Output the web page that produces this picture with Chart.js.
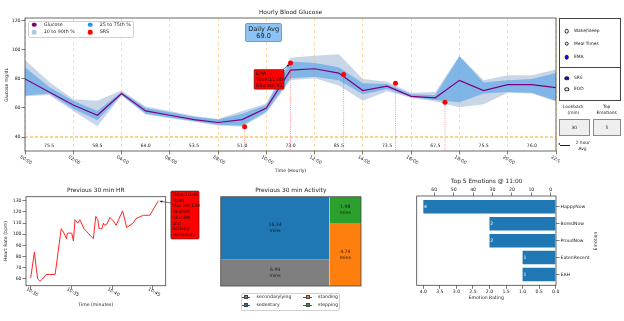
<!DOCTYPE html>
<html>
<head>
<meta charset="utf-8">
<script src="https://cdn.jsdelivr.net/npm/chart.js@4.4.1/dist/chart.umd.min.js"></script>
<style>
  html, body { margin: 0; padding: 0; background: #fff; }
  body { width: 624px; height: 321px; position: relative; overflow: hidden;
         font-family: "DejaVu Sans", sans-serif; color: #222; }
  canvas { position: absolute; }
  .t { position: absolute; white-space: nowrap; line-height: 1; }
  .box { position: absolute; box-sizing: border-box; }
  .dot { position: absolute; border-radius: 50%; box-sizing: border-box; transform: translate(-50%, -50%); }
</style>
</head>
<body>
<canvas id="glucoseChart" width="560" height="180" style="left:0;top:0"></canvas>
<canvas id="hrChart" width="205" height="141" style="left:0;top:180px"></canvas>
<canvas id="activityChart" width="180" height="141" style="left:200px;top:180px"></canvas>
<canvas id="emotionChart" width="234" height="141" style="left:390px;top:180px"></canvas>

<script>
// ---------- hourly glucose ----------
const hours = [0, 1, 2, 3, 4, 5, 6, 7, 8, 9, 10, 11, 12, 13, 14, 15, 16, 17, 18, 19, 20, 21, 22];
const hourTickValues = [0, 2, 4, 6, 8, 10, 12, 14, 16, 18, 20, 22];
const hourTickLabels = ['00:00', '02:00', '04:00', '06:00', '08:00', '10:00', '12:00', '14:00', '16:00', '18:00', '20:00', '22:00'];
const glucoseTicks = [40, 60, 80, 100, 120];
const glucose = [80, 71, 62, 55, 70, 58, 55, 52, 50, 52, 60, 86, 87, 84, 72, 75, 68, 67, 79, 72, 76, 76, 74];
const pct10 = [68, 69, 58, 47.5, 68.5, 55.5, 53, 50.5, 48, 47, 56.5, 79, 80.5, 75.5, 65, 71.5, 67, 64.5, 60.5, 62.5, 70.5, 70, 64.5];
const pct25 = [68.5, 70, 59.5, 51.5, 69, 56, 53.5, 51, 48.5, 48, 57.5, 80.5, 81.5, 79, 69.5, 73, 67.5, 65.5, 64, 70, 71, 70.5, 65];
const pct75 = [88, 74.5, 65, 58, 71, 60, 57, 54, 52, 56, 62, 92, 91, 88, 77, 76.5, 69.5, 69, 95.5, 77.5, 79, 80, 84];
const pct90 = [93, 78, 66, 65, 72, 61, 58, 54.5, 52.5, 58, 63, 94.5, 96, 97, 80, 78, 70.5, 71, 96, 79, 82.5, 82.5, 86.5];
const srsHours = [9.1, 11.0, 13.2, 15.35, 17.4];
const srsGlucose = [47, 91, 83, 77, 64];
const emaIndex = 1;
const emaTimeLabel = '11:00';
const twoHourAvg = [75.5, 58.5, 64.0, 53.5, 51.0, 73.0, 85.5, 73.5, 67.5, 75.5, 76.0];
const dailyAvg = 69.0;
const lowThreshold = 40;

// ---------- previous 30 min heart rate (minutes after 10:30) ----------
const hrMinutes = [0.0, 0.45, 0.85, 1.15, 1.45, 1.9, 2.35, 3.0, 3.75, 4.1, 4.4, 4.5, 4.85, 5.05, 5.25,
  5.45, 5.8, 6.05, 6.55, 7.7, 8.0, 8.25, 8.4, 8.75, 8.95, 9.05, 9.35, 9.75, 10.15, 10.5,
  10.8, 11.3, 11.8, 12.6, 12.95, 13.85, 14.65, 15.7];
const hrBpm = [61, 84, 60, 58, 60, 64, 64, 64, 105, 101, 96, 101, 101, 101, 94,
  113, 110, 113, 105, 96, 116, 113, 105, 105, 110, 108, 109, 115, 112, 108,
  113, 121, 106, 110, 114, 117, 117, 130];
const hrTickValues = [0, 5, 10, 15];
const hrTickLabels = ['10:30', '10:35', '10:40', '10:45'];
const hrYTicks = [60, 70, 80, 90, 100, 110, 120, 130];
const hrTimeLabel = '10:45';
const nearestGlucose = 84;
const currentActivity = 'sedentary';

// ---------- previous 30 min activity ----------
const activityNames = ['secondarylying', 'sedentary', 'standing', 'stepping'];
const activityMins = [6.94, 16.34, 4.74, 1.98];
const activityColors = ['#7f7f7f', '#1f77b4', '#ff7f0e', '#2ca02c'];

// ---------- top emotions ----------
const emotions = ['HappyNow', 'BoredNow', 'ProudNow', 'EatenRecent', 'EAH'];
const emotionRatings = [4, 2, 2, 1, 1];
const ratingTicks = [0, 0.5, 1, 1.5, 2, 2.5, 3, 3.5, 4];
const countTicks = [0, 10, 20, 30, 40, 50, 60];

// ---------- shared look ----------
Chart.defaults.font.family = 'DejaVu Sans';
Chart.defaults.color = '#222';
Chart.defaults.animation = false;
Chart.defaults.responsive = false;
Chart.defaults.events = [];
Chart.defaults.plugins.legend.display = false;
Chart.defaults.plugins.tooltip.enabled = false;

const FONT = '"DejaVu Sans"';
const tickFont = { family: 'DejaVu Sans', size: 4.6 };
const AXIS = '#444';
const tickGrid = () => ({ display: true, drawOnChartArea: false, drawTicks: true, tickLength: 3.5, color: AXIS, lineWidth: 0.7, offset: false });
const pts = (xs, ys) => xs.map((x, i) => ({ x, y: ys[i] }));

const frame = {
  id: 'frame',
  afterDatasetsDraw(chart) {
    const a = chart.chartArea, c = chart.ctx;
    c.save();
    c.strokeStyle = AXIS; c.lineWidth = 0.8;
    c.strokeRect(a.left, a.top, a.right - a.left, a.bottom - a.top);
    c.restore();
  }
};

// x tick labels turned 30 degrees clockwise, centred under each tick
function slantedTicks(labels, dy, dx) {
  return {
    id: 'slantedTicks',
    afterDraw(chart) {
      const s = chart.scales.x, c = chart.ctx, bottom = chart.chartArea.bottom;
      c.save();
      c.font = `4.6px ${FONT}`; c.fillStyle = '#222';
      c.textAlign = 'center'; c.textBaseline = 'middle';
      s.ticks.forEach((t, i) => {
        c.save();
        c.translate(s.getPixelForValue(t.value) + dx, bottom + dy);
        c.rotate(Math.PI / 6);
        c.fillText(labels[i], 0, 0);
        c.restore();
      });
      c.restore();
    }
  };
}

function arrow(c, x1, y1, x2, y2) {
  c.save();
  c.strokeStyle = '#222'; c.fillStyle = '#222'; c.lineWidth = 0.6;
  c.beginPath(); c.moveTo(x1, y1); c.lineTo(x2, y2); c.stroke();
  const ang = Math.atan2(y2 - y1, x2 - x1), L = 2.6, W = 1.2;
  c.beginPath();
  c.moveTo(x2, y2);
  c.lineTo(x2 - L * Math.cos(ang) + W * Math.sin(ang), y2 - L * Math.sin(ang) - W * Math.cos(ang));
  c.lineTo(x2 - L * Math.cos(ang) - W * Math.sin(ang), y2 - L * Math.sin(ang) + W * Math.cos(ang));
  c.closePath(); c.fill();
  c.restore();
}

function roundBox(c, x, y, w, h, r) {
  c.beginPath();
  c.moveTo(x + r, y); c.lineTo(x + w - r, y); c.quadraticCurveTo(x + w, y, x + w, y + r);
  c.lineTo(x + w, y + h - r); c.quadraticCurveTo(x + w, y + h, x + w - r, y + h);
  c.lineTo(x + r, y + h); c.quadraticCurveTo(x, y + h, x, y + h - r);
  c.lineTo(x, y + r); c.quadraticCurveTo(x, y, x + r, y);
  c.closePath();
}

// ================= Hourly Blood Glucose =================
const G_MIN = 30.4, G_MAX = 121.9;
const glucoseNotes = {
  id: 'glucoseNotes',
  afterDatasetsDraw(chart) {
    const xs = chart.scales.x, ys = chart.scales.y, c = chart.ctx;
    c.save();
    c.font = `4.6px ${FONT}`; c.fillStyle = '#222';
    c.textAlign = 'center'; c.textBaseline = 'middle';
    twoHourAvg.forEach((v, i) => c.fillText(v.toFixed(1), xs.getPixelForValue(2 * i + 1), ys.getPixelForValue(34)));

    // EMA call-out on the 11:00 SRS point
    const px = xs.getPixelForValue(srsHours[emaIndex]), py = ys.getPixelForValue(srsGlucose[emaIndex]);
    const bx = px - 36.4, by = py + 6.6, bw = 30, bh = 19.7;
    arrow(c, bx + bw - 1, by, px - 1.2, py + 1.6);
    roundBox(c, bx, by, bw, bh, 0.8);
    c.fillStyle = '#ff0000'; c.fill();
    c.strokeStyle = '#222'; c.lineWidth = 0.5; c.stroke();
    c.fillStyle = '#111'; c.textAlign = 'left'; c.font = `4.8px ${FONT}`;
    ['EMA', 'Time:' + emaTimeLabel, 'Glucose:' + srsGlucose[emaIndex]]
      .forEach((s, i) => c.fillText(s, bx + 1.6, by + 4 + i * 6.3));
    c.restore();
  }
};

new Chart(document.getElementById('glucoseChart'), {
  type: 'line',
  data: {
    datasets: [
      { label: 'p10', data: pts(hours, pct10), borderWidth: 0, pointRadius: 0, fill: false, order: 60 },
      { label: '10 to 90th %', data: pts(hours, pct90), borderWidth: 0, pointRadius: 0, fill: '-1',
        backgroundColor: 'rgba(176,196,222,0.7)', order: 50 },
      { label: 'p25', data: pts(hours, pct25), borderWidth: 0, pointRadius: 0, fill: false, order: 40 },
      { label: '25 to 75th %', data: pts(hours, pct75), borderWidth: 0, pointRadius: 0, fill: '-1',
        backgroundColor: 'rgba(40,140,230,0.45)', order: 30 },
      { label: 'Low', data: [{ x: 0, y: lowThreshold }, { x: 22, y: lowThreshold }], borderColor: '#f2a81d',
        borderWidth: 1, borderDash: [3, 2], pointRadius: 0, fill: false, order: 25 },
      { label: 'Glucose', data: pts(hours, glucose), borderColor: '#800080', borderWidth: 1.2, pointRadius: 0,
        fill: false, order: 20 },
      { label: 'SRS stems', data: srsHours.flatMap((h, i) => [{ x: h, y: srsGlucose[i] }, { x: h, y: G_MIN }, { x: h, y: null }]),
        borderColor: 'rgba(255,40,40,0.7)', borderWidth: 0.7, borderDash: [1, 1.2], pointRadius: 0,
        spanGaps: false, fill: false, order: 15 },
      { label: 'SRS', data: pts(srsHours, srsGlucose), showLine: false, pointRadius: 2.5,
        pointBackgroundColor: '#ff0000', pointBorderWidth: 0, order: 10 }
    ]
  },
  options: {
    layout: { padding: { left: 0, top: 18, right: 3.5, bottom: 0 } },
    scales: {
      x: {
        type: 'linear', min: 0, max: 22,
        afterBuildTicks: s => { s.ticks = hourTickValues.map(v => ({ value: v })); },
        ticks: { display: false },
        grid: { display: true, drawOnChartArea: true, color: 'rgba(245,170,50,0.5)', lineWidth: 0.8,
                drawTicks: true, tickLength: 3.5, tickColor: AXIS, tickWidth: 0.7, tickBorderDash: [] },
        border: { display: false, dash: [3, 3] },
        afterFit: s => { s.height = 29; }
      },
      y: {
        type: 'linear', min: G_MIN, max: G_MAX,
        afterBuildTicks: s => { s.ticks = glucoseTicks.map(v => ({ value: v })); },
        ticks: { font: tickFont, padding: 1, color: '#222' },
        grid: tickGrid(), border: { display: false },
        afterFit: s => { s.width = 25; }
      }
    }
  },
  plugins: [glucoseNotes, frame, slantedTicks(hourTickLabels, 9, 1)]
});

// ================= Previous 30 min HR =================
const hrNotes = {
  id: 'hrNotes',
  afterDraw(chart) {
    const xs = chart.scales.x, ys = chart.scales.y, c = chart.ctx;
    const maxHr = Math.max(...hrBpm);
    const i = hrBpm.indexOf(maxHr);
    const px = xs.getPixelForValue(hrMinutes[i]), py = ys.getPixelForValue(hrBpm[i]);
    const bx = px + 12.4, by = py - 9.7, bw = 28.3, bh = 48;
    c.save();
    arrow(c, bx, by + 12, px + 1.3, py + 0.4);
    roundBox(c, bx, by, bw, bh, 1.2);
    c.fillStyle = '#ff0000'; c.fill();
    c.strokeStyle = '#222'; c.lineWidth = 0.5; c.stroke();
    c.fillStyle = '#111'; c.font = `4.55px ${FONT}`; c.textAlign = 'left'; c.textBaseline = 'middle';
    ['Time:' + hrTimeLabel, 'Stats', 'Max HR:' + maxHr, 'Nearest', 'Gluc:' + nearestGlucose, 'and', 'Activity:', currentActivity]
      .forEach((s, k) => c.fillText(s, bx + 1.6, by + 3.7 + k * 5.75));
    c.restore();
  }
};

new Chart(document.getElementById('hrChart'), {
  type: 'line',
  data: { datasets: [{ data: pts(hrMinutes, hrBpm), borderColor: '#ff2626', borderWidth: 1, pointRadius: 0, fill: false }] },
  options: {
    layout: { padding: { left: 0, top: 16.7, right: 39.3, bottom: 0 } },
    scales: {
      x: {
        type: 'linear', min: -0.58, max: 16.6,
        afterBuildTicks: s => { s.ticks = hrTickValues.map(v => ({ value: v })); },
        ticks: { display: false }, grid: tickGrid(), border: { display: false },
        afterFit: s => { s.height = 35.3; }
      },
      y: {
        type: 'linear', min: 54, max: 133.6,
        afterBuildTicks: s => { s.ticks = hrYTicks.map(v => ({ value: v })); },
        ticks: { font: tickFont, padding: 1, color: '#222' },
        grid: tickGrid(), border: { display: false },
        afterFit: s => { s.width = 26; }
      }
    }
  },
  plugins: [frame, hrNotes, slantedTicks(hrTickLabels, 6.3, 1.5)]
});

// ================= Previous 30 min Activity (two-column treemap) =================
const total = activityMins.reduce((a, b) => a + b, 0);
const [lying, sedentary, standing, stepping] = activityMins;
const leftW = (lying + sedentary) / total;
const splitL = lying / (lying + sedentary);
const splitR = standing / (standing + stepping);
// rectangles [x0, x1, y0, y1] in unit space, in activityNames order
const tiles = [
  [0, leftW, 0, splitL],
  [0, leftW, splitL, 1],
  [leftW, 1, 0, splitR],
  [leftW, 1, splitR, 1]
];
const activityNotes = {
  id: 'activityNotes',
  afterDatasetsDraw(chart) {
    const xs = chart.scales.x, ys = chart.scales.y, c = chart.ctx;
    c.save();
    c.font = `4.6px ${FONT}`; c.fillStyle = '#1a1a1a'; c.textAlign = 'center'; c.textBaseline = 'middle';
    tiles.forEach((t, i) => {
      const cx = xs.getPixelForValue((t[0] + t[1]) / 2), cy = ys.getPixelForValue((t[2] + t[3]) / 2);
      c.fillText(activityMins[i].toFixed(2), cx, cy - 3);
      c.fillText('mins', cx, cy + 3);
    });
    c.restore();
  }
};
new Chart(document.getElementById('activityChart'), {
  type: 'line',
  data: {
    datasets: tiles.map((t, i) => ({
      label: activityNames[i],
      data: [{ x: t[0], y: t[3] }, { x: t[1], y: t[3] }],
      fill: { value: t[2] }, backgroundColor: activityColors[i], borderWidth: 0, pointRadius: 0
    }))
  },
  options: {
    layout: { padding: { left: 20.7, top: 16.7, right: 19, bottom: 35 } },
    scales: {
      x: { type: 'linear', min: 0, max: 1, display: false },
      y: { type: 'linear', min: 0, max: 1, display: false }
    }
  },
  plugins: [activityNotes, frame]
});

// ================= Top 5 Emotions =================
const emotionNotes = {
  id: 'emotionNotes',
  afterDatasetsDraw(chart) {
    const c = chart.ctx, meta = chart.getDatasetMeta(0);
    c.save();
    c.font = `4.6px ${FONT}`; c.fillStyle = '#fff'; c.textAlign = 'left'; c.textBaseline = 'middle';
    meta.data.forEach((bar, i) => c.fillText(String(emotionRatings[i]), bar.x + 0.8, bar.y));
    c.restore();
  }
};
new Chart(document.getElementById('emotionChart'), {
  type: 'bar',
  data: {
    datasets: [{
      data: emotions.map((e, i) => ({ x: emotionRatings[i], y: i })),
      backgroundColor: '#1f77b4', barPercentage: 0.8, categoryPercentage: 1
    }]
  },
  options: {
    indexAxis: 'y',
    layout: { padding: { left: 26.7, top: 0, right: 0, bottom: 0 } },
    scales: {
      x: {
        type: 'linear', position: 'bottom', min: -0.01, max: 4.2, reverse: true,
        afterBuildTicks: s => { s.ticks = ratingTicks.map(v => ({ value: v })); },
        ticks: { font: tickFont, padding: 0, color: '#222', maxRotation: 0, callback: v => v.toFixed(1) },
        grid: tickGrid(), border: { display: false },
        afterFit: s => { s.height = 35.7; }
      },
      x2: {
        type: 'linear', position: 'top', min: -2.73, max: 69.07, reverse: true,
        afterBuildTicks: s => { s.ticks = countTicks.map(v => ({ value: v })); },
        ticks: { font: tickFont, padding: 0, color: '#222', maxRotation: 0 },
        grid: tickGrid(), border: { display: false },
        afterFit: s => { s.height = 16; }
      },
      y: {
        type: 'linear', position: 'right', min: -0.64, max: 4.64, reverse: true, offset: false,
        afterBuildTicks: s => { s.ticks = emotions.map((e, i) => ({ value: i })); },
        ticks: { font: tickFont, padding: 1, color: '#222', callback: v => emotions[v] },
        grid: tickGrid(), border: { display: false },
        afterFit: s => { s.width = 68; }
      }
    }
  },
  plugins: [emotionNotes, frame]
});

// ================= text, legends and controls =================
function txt(s, x, y, size, opt = {}) {
  const d = document.createElement('div');
  d.className = 't';
  d.textContent = s;
  d.style.left = x + 'px';
  d.style.top = y + 'px';
  d.style.fontSize = size + 'px';
  let tf = `translate(${opt.left ? '0' : '-50%'},-50%)`;
  if (opt.rot) tf += ` rotate(${opt.rot}deg)`;
  d.style.transform = tf;
  if (opt.color) d.style.color = opt.color;
  document.body.appendChild(d);
  return d;
}
function box(x, y, w, h, css) {
  const d = document.createElement('div');
  d.className = 'box';
  Object.assign(d.style, { left: x + 'px', top: y + 'px', width: w + 'px', height: h + 'px' }, css);
  document.body.appendChild(d);
  return d;
}
function dot(x, y, w, h, css) {
  const d = document.createElement('div');
  d.className = 'dot';
  Object.assign(d.style, { left: x + 'px', top: y + 'px', width: w + 'px', height: h + 'px' }, css);
  document.body.appendChild(d);
}

// glucose panel titles
txt('Hourly Blood Glucose', 290.5, 12.7, 5.9);
txt('Glucose mg/dL', 6.5, 84.5, 4.6, { rot: -90 });
txt('Time (Hourly)', 290.5, 170.5, 4.6);

// glucose legend
box(28, 21, 106, 17, { border: '0.6px solid #d0d0d0', borderRadius: '2px', background: 'rgba(255,255,255,0.85)' });
[
  ['Glucose', '#800080', 34, 24.6], ['10 to 90th %', '#adc6e6', 34, 32],
  ['25 to 75th %', '#1e90ff', 90, 24.6], ['SRS', '#ff0000', 90, 32]
].forEach(([name, col, x, y]) => {
  dot(x, y, 4.6, 4.6, { background: col });
  txt(name, x + 9.7, y, 4.8, { left: true });
});

// daily average badge
box(245, 23.3, 37.3, 18.4, { background: '#8cc3f4', border: '0.6px solid #6a9fd2', borderRadius: '2px' });
txt('Daily Avg', 263.7, 28.6, 6.6);
txt(dailyAvg.toFixed(1), 263.7, 36.2, 6.6);

// selector panel
box(558.7, 18.3, 62.3, 48.9, { border: '0.8px solid #444', borderBottom: 'none' });
box(558.7, 66.7, 62.3, 34.3, { border: '0.8px solid #444' });
[['Wake/Sleep', 31, false], ['Meal Times', 43.7, false], ['EMA', 57, true]].forEach(([s, y, on]) => {
  dot(566.7, y, 4.6, 4.6, { border: '0.6px solid #222', background: on ? '#0000ff' : '#fff' });
  txt(s, 574, y, 4.4, { left: true });
});
[['SRS', 78.3, true], ['EOD', 89.3, false]].forEach(([s, y, on]) => {
  dot(566.7, y, 5.4, 3.4, { border: '0.6px solid #222', background: on ? '#0000ff' : '#fff' });
  txt(s, 574, y, 4.4, { left: true });
});
txt('Lookback', 573.3, 107, 4.4);
txt('(min)', 573.3, 113, 4.4);
txt('Top', 606.7, 107, 4.4);
txt('Emotions', 606.7, 113, 4.4);
box(558.7, 119, 31.3, 17.3, { background: '#efefef', border: '0.8px solid #8a8a8a' });
box(592.7, 119, 28.3, 17.3, { background: '#efefef', border: '0.8px solid #8a8a8a' });
txt('30', 574.3, 127.7, 4.4);
txt('5', 606.8, 127.7, 4.4);
box(559.5, 144.7, 10, 0.7, { background: '#222' });
box(558, 143.4, 0, 0, { borderTop: '1.3px solid transparent', borderBottom: '1.3px solid transparent', borderRight: '2.4px solid #222' });
txt('2 hour', 582.8, 142.7, 4.4);
txt('Avg', 582.6, 149.3, 4.4);

// heart rate labels
txt('Previous 30 min HR', 95.8, 190.7, 5.9);
txt('Heart Rate (bpm)', 6, 241.2, 4.6, { rot: -90 });
txt('Time (minutes)', 95.8, 305, 4.6);

// activity labels and legend
txt('Previous 30 min Activity', 290.8, 191, 5.9);
box(240.7, 293.3, 99.3, 17.4, { border: '0.6px solid #d0d0d0', borderRadius: '2px', background: '#fff' });
[[0, 246, 297.4], [1, 246, 305.4], [2, 307.6, 297.4], [3, 307.6, 305.4]].forEach(([k, x, y]) => {
  box(x - 4.3, y - 0.35, 8.6, 0.7, { background: '#555' });
  box(x - 2, y - 2, 4, 4, { background: activityColors[k], border: '0.5px solid #444' });
  txt(activityNames[k], x + 10.5, y, 4.6, { left: true });
});

// emotion labels
txt('Top 5 Emotions @ 11:00', 486.7, 182.3, 5.9);
txt('Emotion Rating', 486.3, 298.3, 4.6);
txt('Emotion', 595.7, 241, 4.6, { rot: -90 });
</script>
</body>
</html>
